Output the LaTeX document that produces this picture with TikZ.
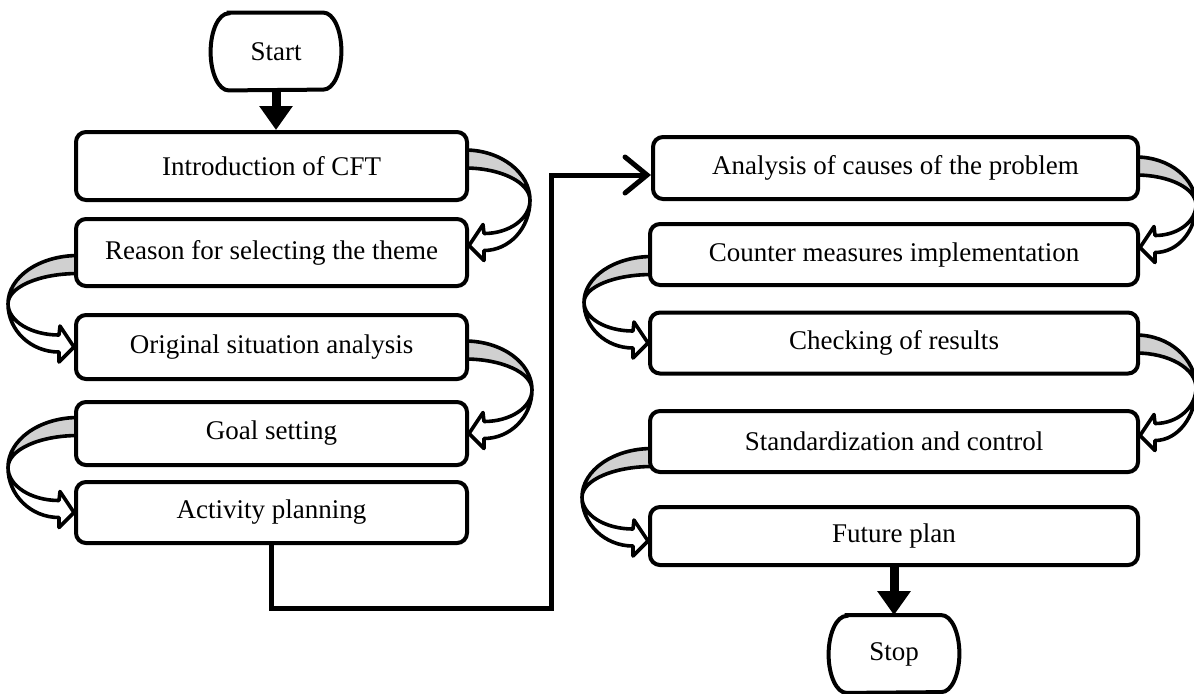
\documentclass[tikz,border=0pt]{standalone}
\usepackage{fontspec}
\setmainfont{Liberation Serif}
\usetikzlibrary{arrows.meta,calc,backgrounds}

\definecolor{bandgray}{RGB}{208,208,208}

\tikzset{
  stepbox/.style={draw, line width=2pt, rounded corners=5pt, fill=white,
    inner sep=0pt, font=\fontsize{13.5pt}{16pt}\selectfont},
  leftbox/.style={stepbox, minimum width=195.5pt, minimum height=32pt},
  rightbox/.style={stepbox, minimum width=244pt, minimum height=30.5pt},
  termtext/.style={inner sep=0pt, minimum width=65pt, minimum height=38.5pt,
    font=\fontsize{13.5pt}{16pt}\selectfont},
  termline/.style={line width=2pt},
  bandline/.style={line width=1.8pt, line join=round},
  heavyarrow/.style={line width=4.5pt, -{Triangle[length=12pt,width=16pt]}},
  elbowline/.style={line width=2.5pt, line join=miter,
    -{Straight Barb[length=11pt,width=18pt,line cap=round]}}
}

% Curved "turn" arrow between two stacked boxes.
% #1 upper node, #2 lower node, #3 side anchor (east/west),
% #4 side sign (1 = right side, -1 = left side),
% #5 band offset from upper centre, #6 tip offset from lower centre,
% #7 horizontal reach (all in px units of the picture)
\newcommand\bendarrow[7]{%
  \coordinate (ba-p1) at ($(#1.#3)+(-#4*4,#5)$);
  \coordinate (ba-p2) at ($(ba-p1)+(0,18)$);
  \coordinate (ba-t)  at ($(#2.#3)+(0,#6)$);
  \coordinate (ba-le) at ($(ba-t)+(#4*15,5)$);
  \coordinate (ba-lb) at ($(ba-t)+(#4*15,15)$);
  \coordinate (ba-ue) at ($(ba-t)+(#4*15,-12)$);
  \coordinate (ba-ub) at ($(ba-t)+(#4*14,-21)$);
  \coordinate (ba-m)  at ($(ba-p1)!0.5!(ba-le)$);
  \coordinate (ba-q)  at ($(ba-m -| #1.#3)+(#4*#7,0)$);
  \coordinate (ba-c1) at (ba-q |- ba-p1);
  \coordinate (ba-c2) at (ba-q |- ba-p2);
  \coordinate (ba-c3) at (ba-q |- ba-le);
  \coordinate (ba-c4) at (ba-q |- ba-ue);
  \draw[bandline, fill=bandgray]
    (ba-p1) .. controls ($(ba-p1)!0.552!(ba-c1)$) and ($(ba-q)!0.552!(ba-c1)$) .. (ba-q)
    .. controls ($(ba-q)!0.552!(ba-c2)$) and ($(ba-p2)!0.552!(ba-c2)$) .. (ba-p2) -- cycle;
  \draw[bandline, fill=white]
    (ba-q) .. controls ($(ba-q)!0.552!(ba-c3)$) and ($(ba-le)!0.552!(ba-c3)$) .. (ba-le)
    -- (ba-lb) -- (ba-t) -- (ba-ub) -- (ba-ue)
    .. controls ($(ba-ue)!0.552!(ba-c4)$) and ($(ba-q)!0.552!(ba-c4)$) .. (ba-q) -- cycle;
}

% Terminator outline with elliptical ends around a text node
\newcommand\terminator[1]{%
  \draw[termline] ([xshift=9pt]#1.north west) -- ([xshift=-9pt]#1.north east)
    arc[start angle=90, end angle=-90, x radius=9pt, y radius=19.25pt]
    -- ([xshift=9pt]#1.south west)
    arc[start angle=270, end angle=90, x radius=9pt, y radius=19.25pt] -- cycle;
}

\begin{document}
\begin{tikzpicture}[x=0.5pt, y=-0.5pt]
\useasboundingbox (0,0) rectangle (1194,693);

% terminators
\node[termtext] (start) at (276,51.5) {Start};
\terminator{start}
\node[termtext] (stop) at (894,654) {Stop};
\terminator{stop}

% left column
\node[leftbox, minimum height=34pt] (intro) at (271.5,166) {Introduction of CFT};
\node[leftbox, minimum height=33.5pt] (reason) at (271.5,252.5) {Reason for selecting the theme};
\node[leftbox] (orig) at (271.5,347) {Original situation analysis};
\node[leftbox, minimum height=31.5pt] (goal) at (271.5,433.5) {Goal setting};
\node[leftbox, minimum height=30.5pt] (activity) at (271.5,512.5) {Activity planning};

% right column
\node[rightbox, minimum width=242.5pt, minimum height=31pt] (analysis) at (895.5,168) {Analysis of causes of the problem};
\node[rightbox] (counter) at (894,254.5) {Counter measures implementation};
\node[rightbox] (checking) at (894,343) {Checking of results};
\node[rightbox] (stand) at (894,441.5) {Standardization and control};
\node[rightbox, minimum height=29pt] (future) at (894,536) {Future plan};

% turn arrows behind the boxes
\begin{scope}[on background layer]
  \bendarrow{intro}{reason}{east}{1}{-16}{-7}{61}
  \bendarrow{reason}{orig}{west}{-1}{3}{0}{66}
  \bendarrow{orig}{goal}{east}{1}{-6}{0}{63}
  \bendarrow{goal}{activity}{west}{-1}{-16}{0}{66}
  \bendarrow{analysis}{counter}{east}{1}{-11}{-7}{56}
  \bendarrow{counter}{checking}{west}{-1}{2}{0}{64}
  \bendarrow{checking}{stand}{east}{1}{-8}{-6}{56}
  \bendarrow{stand}{future}{west}{-1}{7}{5}{66}
\end{scope}

% straight connectors
\draw[heavyarrow] (start.south) -- (start.south |- intro.north);
\draw[heavyarrow] (future.south) -- (future.south |- stop.north);

\coordinate (elbow) at (551,608);
\draw[elbowline] (activity.south) |- (elbow) |- ([yshift=-3.5pt]analysis.west);
\end{tikzpicture}
\end{document}
